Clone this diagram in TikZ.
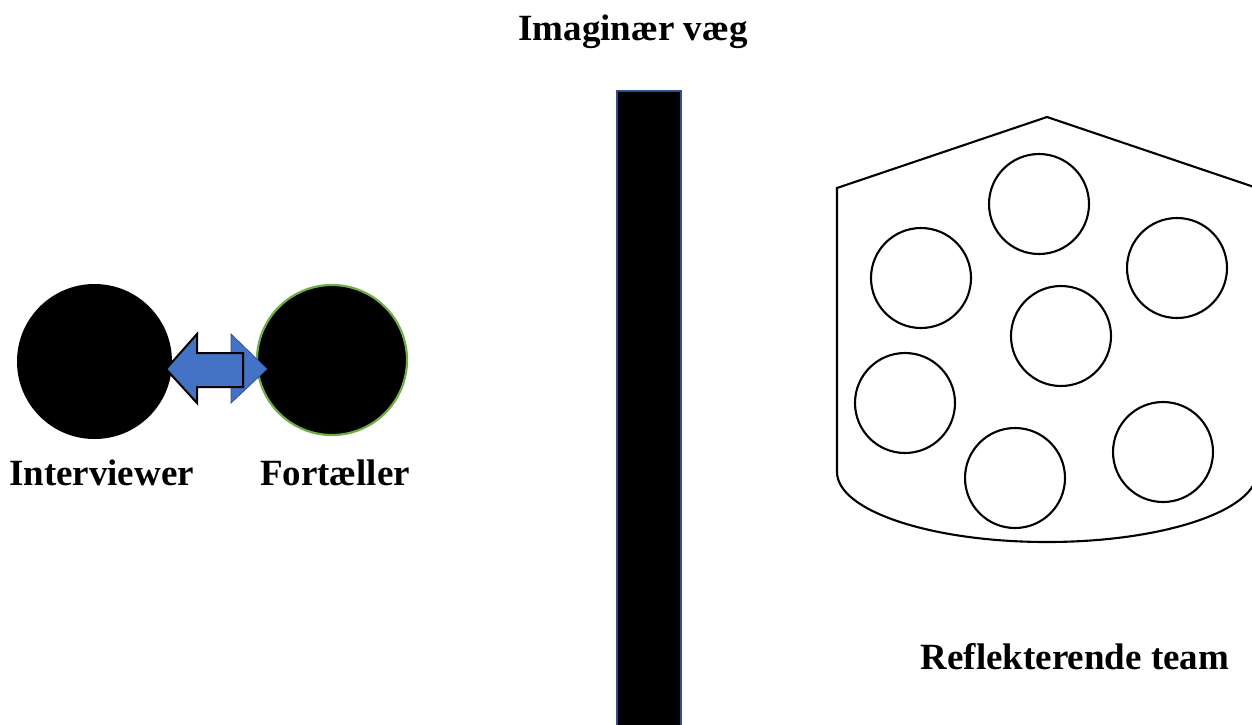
\documentclass[tikz,border=0pt]{standalone}
\usepackage{fontspec}
\setmainfont{Liberation Serif}
\definecolor{arrowblue}{HTML}{4472C4}
\definecolor{edgeblue}{HTML}{2F528F}
\definecolor{ringgreen}{HTML}{70AD47}
\begin{document}
\begin{tikzpicture}[x=1pt,y=-1pt,
  lbl/.style={font=\bfseries\fontsize{37}{44}\selectfont, inner sep=0pt, anchor=base},
  person/.style={circle, fill=black, inner sep=0pt},
  member/.style={circle, draw=black, line width=2.1pt, minimum size=100pt, inner sep=0pt},
  wall/.style={fill=black, draw=edgeblue, line width=2pt},
  enclosure/.style={draw=black, line width=2.1pt, line join=miter}
]
\useasboundingbox (0,0) rectangle (1252,724);
\fill[white] (0,0) rectangle (1252,724);
\clip (0,0) rectangle (1252,724);

% title
\node[lbl] (title) at (633,40) {Imaginær væg};

% wall
\path[wall] (617,91) rectangle (681,740);
\coordinate (walltop) at (649,91);

% people
\node[person, minimum size=155pt] (interviewer) at (94.5,361.5) {};
\node[person, draw=ringgreen, line width=2.2pt, minimum size=150pt] (fort) at (332,360) {};
\node[lbl] (lint) at (101.5,485) {Interviewer};
\node[lbl] (lfort) at (335,485) {Fortæller};

% double arrow
\coordinate (rtip) at (267,369);
\coordinate (ltip) at (166,369);
\fill[arrowblue, draw=edgeblue, line width=0.8pt] (231,334) -- (rtip) -- (231,403) -- cycle;
\filldraw[fill=arrowblue, draw=black, line width=2pt, line join=miter]
  (ltip) -- (197,334) -- (197,353) -- (243,353) -- (243,387) -- (197,387) -- (197,403) -- cycle;

% team enclosure
\draw[enclosure] (837,188) -- (1047,117) -- (1257,188) -- (1257,472)
  arc[start angle=0, end angle=180, x radius=210, y radius=70] -- cycle;

% team members
\node[member] (m1) at (1039,204) {};
\node[member] (m2) at (921,278) {};
\node[member] (m3) at (1177,268) {};
\node[member] (m4) at (1061,336) {};
\node[member] (m5) at (905,403) {};
\node[member] (m6) at (1015,478) {};
\node[member] (m7) at (1163,452) {};

\node[lbl] (lteam) at (1075,669) {Reflekterende team};
\end{tikzpicture}
\end{document}
